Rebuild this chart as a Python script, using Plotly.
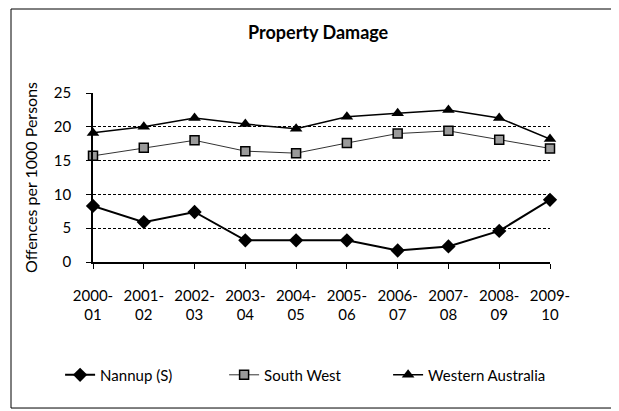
import plotly.graph_objects as go

years = ["2000-<br>01", "2001-<br>02", "2002-<br>03", "2003-<br>04", "2004-<br>05",
         "2005-<br>06", "2006-<br>07", "2007-<br>08", "2008-<br>09", "2009-<br>10"]
nannup = [8.3, 5.9, 7.4, 3.2, 3.2, 3.2, 1.7, 2.3, 4.6, 9.2]
south_west = [15.7, 16.9, 18.0, 16.4, 16.1, 17.6, 19.0, 19.4, 18.1, 16.8]
western_australia = [19.1, 20.0, 21.3, 20.4, 19.7, 21.5, 22.0, 22.5, 21.3, 18.2]

FONT = "Lato, Carlito, Calibri, sans-serif"

fig = go.Figure()
fig.add_trace(go.Scatter(
    x=years, y=nannup, name="Nannup (S)", mode="lines+markers",
    line={"color": "#000000", "width": 2},
    marker={"symbol": "diamond", "size": 11, "color": "#000000"},
    cliponaxis=False,
))
fig.add_trace(go.Scatter(
    x=years, y=south_west, name="South West", mode="lines+markers",
    line={"color": "#333333", "width": 1},
    marker={"symbol": "square", "size": 9, "color": "#9a9a9a",
            "line": {"color": "#000000", "width": 1.5}},
    cliponaxis=False,
))
fig.add_trace(go.Scatter(
    x=years, y=western_australia, name="Western Australia", mode="lines+markers",
    line={"color": "#000000", "width": 1.5},
    marker={"symbol": "triangle-up", "size": 11, "color": "#000000"},
    cliponaxis=False,
))

# the page body adds an 8px offset, so everything is laid out 8px up/left
fig.update_layout(
    width=619, height=411,
    margin={"l": 85, "r": 77, "t": 85, "b": 157},
    paper_bgcolor="#ffffff", plot_bgcolor="#ffffff",
    font={"family": FONT, "size": 15, "color": "#000000"},
    title={"text": "<b>Property Damage</b>", "x": 0.501, "xanchor": "center",
           "y": 0.939, "yanchor": "middle", "font": {"size": 18}},
    legend={"orientation": "h", "x": -0.072, "xanchor": "left", "y": -0.669,
            "yanchor": "middle", "font": {"size": 15}, "entrywidth": 119},
    showlegend=True,
)
fig.update_xaxes(
    type="category", range=[0, 9], showgrid=False, zeroline=False,
    showline=True, linecolor="#000000", linewidth=1.5,
    ticks="outside", ticklen=5, tickcolor="#000000",
    ticklabelstandoff=14, tickfont={"size": 15},
)
fig.update_yaxes(
    range=[0, 25], dtick=5, showgrid=True, gridcolor="#000000", griddash="3px,2px",
    gridwidth=1, zeroline=False,
    showline=True, linecolor="#000000", linewidth=1.5,
    ticks="outside", ticklen=5, tickcolor="#000000", ticklabelstandoff=12,
    tickfont={"size": 15},
    title={"text": "Offences per 1000 Persons", "standoff": 12, "font": {"size": 16}},
)
fig.add_shape(type="rect", xref="paper", yref="paper",
              x0=-0.1794, x1=1.1379, y0=-0.864, y1=1.497,
              line={"color": "#000000", "width": 1})

fig.write_html("out.html")
